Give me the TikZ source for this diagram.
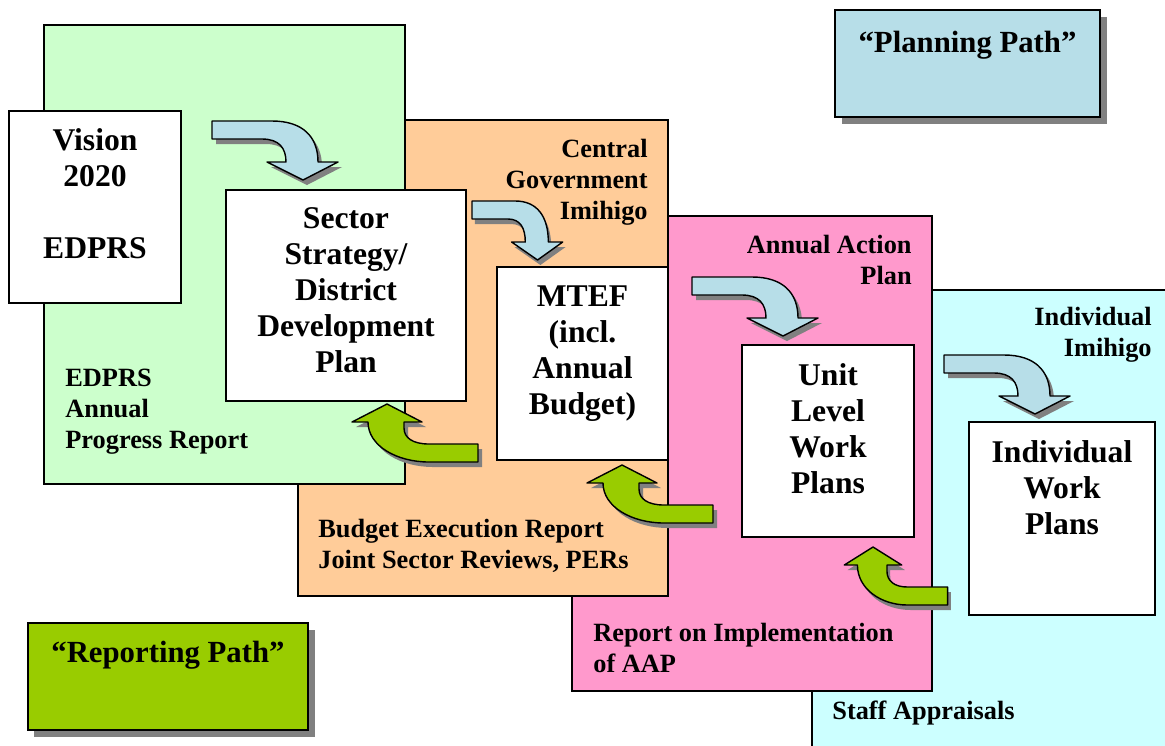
\documentclass[tikz,border=0pt]{standalone}
\usepackage{fontspec}
\setmainfont{Liberation Serif}
\usepackage{tikz}
\usetikzlibrary{fit,shadows}
\definecolor{menta}{HTML}{CCFFCC}
\definecolor{melocoton}{HTML}{FFCC99}
\definecolor{rosa}{HTML}{FF99CC}
\definecolor{celeste}{HTML}{CCFFFF}
\definecolor{azulflecha}{HTML}{B7DEE8}
\definecolor{lima}{HTML}{99CC00}
\definecolor{sombra}{HTML}{808080}
% contornos de las flechas curvas (unidades en px, y hacia abajo)
\newcommand{\rutaplan}{(0,0) -- (60,0) .. controls (90,0) and (106,15) .. (106,41) -- (126,41) -- (91,59) -- (55,41) -- (74,41) .. controls (74,27) and (67,18) .. (50,18) -- (0,18) -- cycle}
\newcommand{\rutainforme}{(0,0) -- (35,18) -- (17,18) -- (17,24) .. controls (17,34) and (26,40) .. (42,40) -- (91,40) -- (91,58) -- (42,58) .. controls (10,58) and (-19,42) .. (-19,18) -- (-35,18) -- cycle}
\tikzset{
  panel/.style={draw=black,line width=0.6pt,inner sep=0pt},
  cajablanca/.style={draw=black,fill=white,line width=0.8pt,inner sep=0pt},
  textocaja/.style={font=\fontsize{18}{20.5}\selectfont\bfseries,align=center,inner sep=0pt,anchor=north},
  rotulo/.style={font=\fontsize{15}{17.5}\selectfont\bfseries,inner sep=0pt},
  leyenda/.style={draw=black,line width=0.8pt,inner sep=0pt,drop shadow={shadow xshift=0.13cm,shadow yshift=-0.13cm,fill=sombra,opacity=1}},
  textoleyenda/.style={font=\fontsize{17.5}{20}\selectfont\bfseries,inner sep=0pt,anchor=north},
  flechaplan/.pic={
    \fill[sombra,shift={(4,5)}] \rutaplan;
    \filldraw[fill=azulflecha,draw=black,line width=0.8pt,line join=round] \rutaplan;
  },
  flechainforme/.pic={
    \fill[sombra,shift={(4,5)}] \rutainforme;
    \filldraw[fill=lima,draw=black,line width=0.8pt,line join=round] \rutainforme;
  },
}

\begin{document}
\begin{tikzpicture}[x=0.02cm,y=-0.02cm]
  \useasboundingbox (0,0) rectangle (1165,745);
  \clip (0,0) rectangle (1165,745);
  % paneles de fondo, del ultimo al primero
  \node[panel,fill=celeste,fit={(812,290) (1180,760)}] (staff) {};
  \node[panel,fill=rosa,fit={(572,216) (932,691)}] (aap) {};
  \node[panel,fill=melocoton,fit={(298,120) (668,596)}] (budget) {};
  \node[panel,fill=menta,fit={(44,25) (405,484)}] (edprs) {};
  % documentos
  \node[cajablanca,fit={(9,111) (181,303)}] (vision) {};
  \node[cajablanca,fit={(226,190) (466,401)}] (sector) {};
  \node[cajablanca,fit={(497,267) (668,460)}] (mtef) {};
  \node[cajablanca,fit={(742,345) (914,537)}] (unit) {};
  \node[cajablanca,fit={(969,422) (1155,615)}] (individual) {};
  \node[textocaja] (visiontxt) at ([yshift=-0.36cm]vision.north) {Vision\\2020\\[20.5pt]EDPRS};
  \node[textocaja] (sectortxt) at ([yshift=-0.36cm]sector.north) {Sector\\Strategy/\\District\\Development\\Plan};
  \node[textocaja] (mteftxt) at ([yshift=-0.38cm]mtef.north) {MTEF\\(incl.\\Annual\\Budget)};
  \node[textocaja] (unittxt) at ([yshift=-0.38cm]unit.north) {Unit\\Level\\Work\\Plans};
  \node[textocaja] (individualtxt) at ([yshift=-0.38cm]individual.north) {Individual\\Work\\Plans};
  % rotulos de cada panel
  \node[rotulo,align=left,anchor=north west] (edprslbl) at (65,369) {EDPRS\\Annual\\Progress Report};
  \node[rotulo,align=right,anchor=north east] (centrallbl) at (648,139) {Central\\Government\\Imihigo};
  \node[rotulo,align=left,anchor=north west] (budgetlbl) at (318,519) {Budget Execution Report\\Joint Sector Reviews, PERs};
  \node[rotulo,align=right,anchor=north east] (aaplbl) at (912,235) {Annual Action\\Plan};
  \node[rotulo,align=left,anchor=north west] (reportlbl) at (593,623) {Report on Implementation\\of AAP};
  \node[rotulo,align=right,anchor=north east] (imihigolbl) at (1152,307) {Individual\\Imihigo};
  \node[rotulo,anchor=north west] (stafflbl) at (832,701) {Staff Appraisals};
  % flechas de planificacion (bajan) y de informes (suben)
  \pic at (212,121) {flechaplan};
  \pic[xscale=0.72] at (472,201) {flechaplan};
  \pic at (692,277) {flechaplan};
  \pic at (944,355) {flechaplan};
  \pic at (387,404) {flechainforme};
  \pic at (622,465) {flechainforme};
  \pic[xscale=0.82] at (873,547) {flechainforme};
  % leyenda
  \node[leyenda,fill=azulflecha,fit={(835,10) (1100,117)}] (planning) {};
  \node[textoleyenda] (planningtxt) at ([yshift=-0.44cm]planning.north) {“Planning Path”};
  \node[leyenda,fill=lima,fit={(28,623) (308,730)}] (reporting) {};
  \node[textoleyenda] (reportingtxt) at ([yshift=-0.38cm]reporting.north) {“Reporting Path”};
\end{tikzpicture}
\end{document}
